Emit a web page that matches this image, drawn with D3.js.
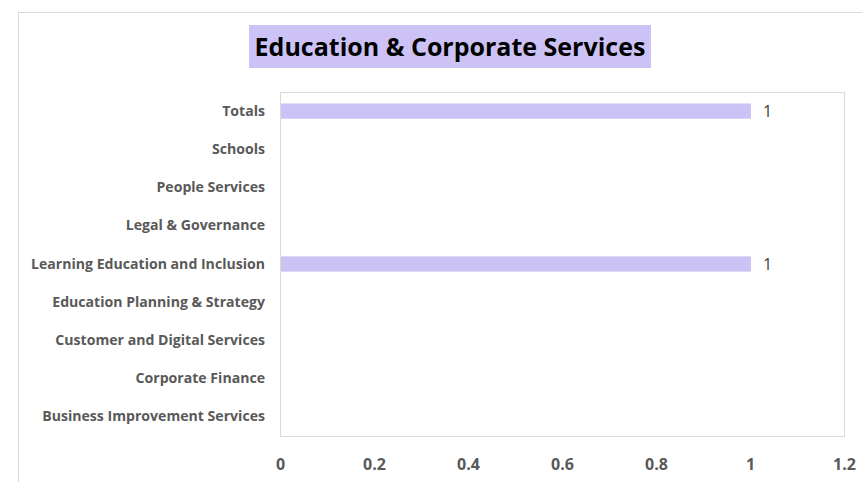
<!DOCTYPE html>
<html>
<head>
<meta charset="utf-8">
<script src="https://cdn.jsdelivr.net/npm/d3@7"></script>
<style>
  body { margin: 0; background: #fff; }
  text { font-family: "Open Sans", "Liberation Sans", sans-serif; }
</style>
</head>
<body>
<div id="holder"></div>
<script>
const categories = [
  "Totals",
  "Schools",
  "People Services",
  "Legal & Governance",
  "Learning Education and Inclusion",
  "Education Planning & Strategy",
  "Customer and Digital Services",
  "Corporate Finance",
  "Business Improvement Services"
];
const values = [1, null, null, null, 1, null, null, null, null];
const xTicks = [0, 0.2, 0.4, 0.6, 0.8, 1, 1.2];
const title = "Education & Corporate Services";

const width = 862;
const height = 482;
const plot = { left: 280, right: 844, top: 92, bottom: 436 };

const svg = d3.select("#holder")
  .append("svg")
  .attr("width", width)
  .attr("height", height);

// chart outer border
svg.append("rect")
  .attr("x", 18.5).attr("y", 12.5)
  .attr("width", 900).attr("height", 500)
  .attr("fill", "none")
  .attr("stroke", "#d9d9d9");

// title box
const titleG = svg.append("g");
titleG.append("rect")
  .attr("x", 249).attr("y", 25)
  .attr("width", 402).attr("height", 43)
  .attr("fill", "#ccc2f5");
titleG.append("text")
  .attr("x", 450).attr("y", 56)
  .attr("text-anchor", "middle")
  .attr("font-size", 25)
  .attr("font-weight", "bold")
  .attr("fill", "#000")
  .text(title);

const xScale = d3.scaleLinear()
  .domain([0, 1.2])
  .range([plot.left, plot.right]);

const yScale = d3.scaleBand()
  .domain(categories)
  .range([plot.top, plot.bottom])
  .paddingInner(0.6)
  .paddingOuter(0.3);

// plot area border
svg.append("rect")
  .attr("x", plot.left + 0.5).attr("y", plot.top + 0.5)
  .attr("width", plot.right - plot.left).attr("height", plot.bottom - plot.top)
  .attr("fill", "none")
  .attr("stroke", "#d9d9d9");

const xAxis = d3.axisBottom(xScale)
  .tickValues(xTicks)
  .tickSize(0)
  .tickPadding(23)
  .tickFormat(d3.format("~g"));

svg.append("g")
  .attr("transform", `translate(0, ${plot.bottom})`)
  .call(xAxis)
  .call(g => g.select(".domain").remove())
  .selectAll("text")
  .attr("font-size", 16)
  .attr("font-weight", "bold")
  .attr("fill", "#595959")
  .style("font-family", "\"Open Sans\", sans-serif");

const yAxis = d3.axisLeft(yScale)
  .tickSize(0)
  .tickPadding(15);

svg.append("g")
  .attr("transform", `translate(${plot.left}, 0)`)
  .call(yAxis)
  .call(g => g.select(".domain").remove())
  .selectAll("text")
  .attr("font-size", 14.1)
  .attr("font-weight", "bold")
  .attr("fill", "#595959")
  .style("font-family", "\"Open Sans\", sans-serif");

const rows = categories.map((c, i) => ({ cat: c, val: values[i] }))
  .filter(d => d.val != null);

svg.selectAll("rect.bar")
  .data(rows)
  .enter()
  .append("rect")
  .attr("class", "bar")
  .attr("x", xScale(0) + 1)
  .attr("y", d => yScale(d.cat))
  .attr("width", d => xScale(d.val) - xScale(0))
  .attr("height", yScale.bandwidth())
  .attr("fill", "#cbc3f5");

svg.selectAll("text.lbl")
  .data(rows)
  .enter()
  .append("text")
  .attr("class", "lbl")
  .attr("x", d => xScale(d.val) + 13)
  .attr("y", d => yScale(d.cat) + yScale.bandwidth() / 2)
  .attr("dy", "0.35em")
  .attr("font-size", 16)
  .attr("fill", "#404040")
  .text(d => d.val);
</script>
</body>
</html>
